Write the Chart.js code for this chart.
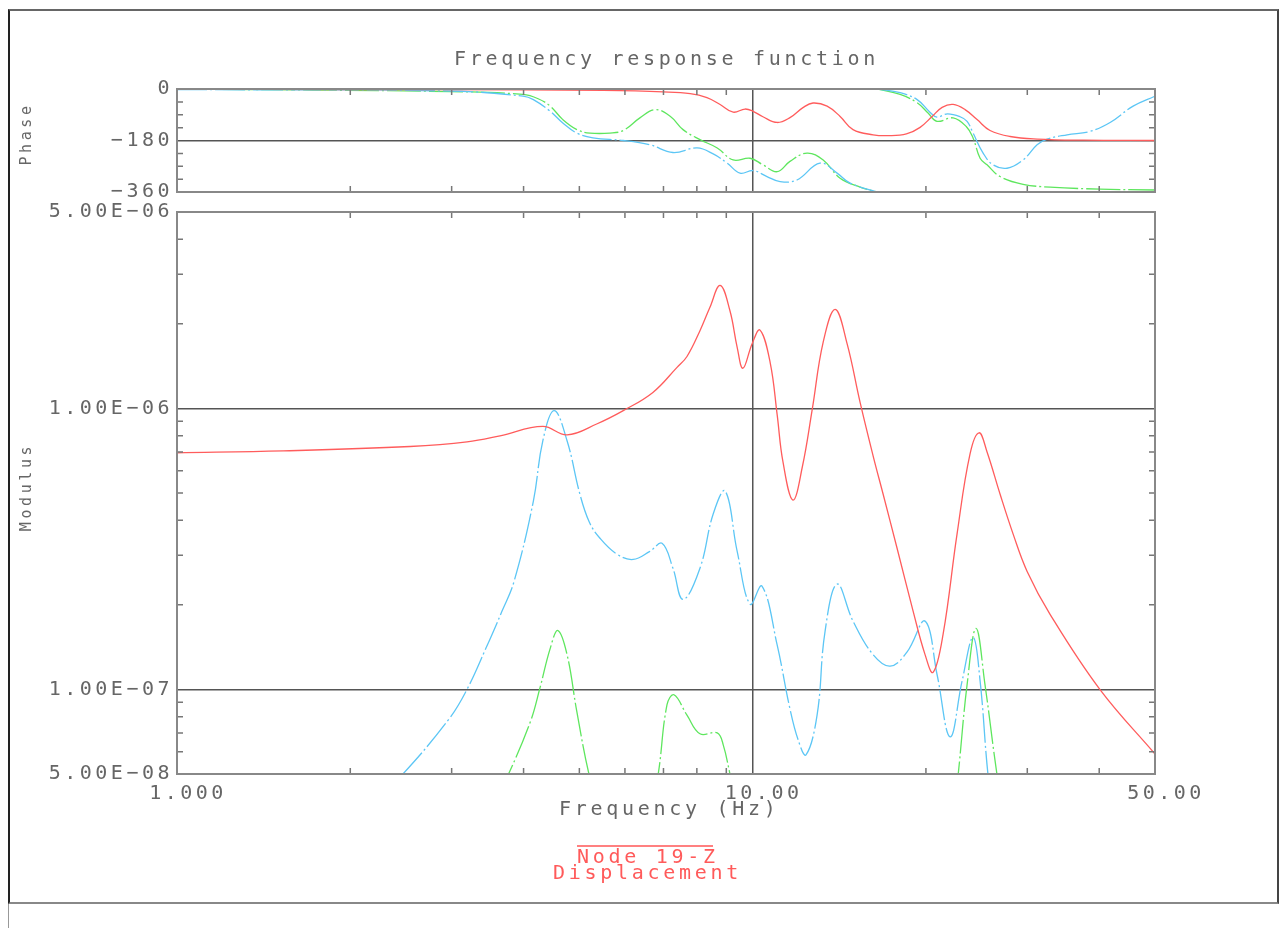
<!DOCTYPE html>
<html>
<head>
<meta charset="utf-8">
<script src="https://cdn.jsdelivr.net/npm/chart.js@4.4.1/dist/chart.umd.min.js"></script>
<style>
  body { margin: 0; background: #fff; width: 1283px; height: 928px; overflow: hidden; position: relative;
         font-family: 'DejaVu Sans Mono', monospace; color: #666; }
  .txt { position: absolute; white-space: nowrap; font-size: 20px; line-height: 24px; letter-spacing: 3.7px; }
  .vert { position: absolute; white-space: nowrap; font-size: 15px; line-height: 18px; letter-spacing: 3.6px;
          transform: translate(-50%, -50%) rotate(-90deg); }
  canvas { position: absolute; left: 0; top: 0; }
  #frame { position: absolute; left: 8px; top: 9px; width: 1267px; height: 891px;
           border-left: 2px solid #222; border-top: 2px solid #666; border-right: 2px solid #444; border-bottom: 2px solid #888; }
  #lower { position: absolute; left: 8px; top: 904px; height: 30px; border-left: 1px solid #999; }
  #overline { position: absolute; left: 577px; top: 845px; width: 136px; height: 2px; background: #ff8080; }
  .red { color: #ff5a5a; }
</style>
</head>
<body>
<div id="frame"></div>
<div id="lower"></div>
<canvas id="phaseChart" width="1283" height="928"></canvas>
<canvas id="modChart" width="1283" height="928"></canvas>

<div class="txt" style="left:454px; top:46px;">Frequency response function</div>
<div class="vert" style="left:26px; top:134px;">Phase</div>
<div class="vert" style="left:26px; top:487px;">Modulus</div>
<div class="txt" style="left:559px; top:796px;">Frequency (Hz)</div>
<div id="overline"></div>
<div class="txt red" style="left:577px; top:844px;">Node 19-Z</div>
<div class="txt red" style="left:553px; top:860px;">Displacement</div>

<script>
// --- data ---
const xTickValues = [1, 10, 50];
const xTickLabels = ['1.000', '10.00', '50.00'];
const xMinorTicks = [2, 3, 4, 5, 6, 7, 8, 9, 20, 30, 40];

const modTickValues = [5e-8, 1e-7, 1e-6, 5e-6];
const modTickLabels = ['5.00E\u221208', '1.00E\u221207', '1.00E\u221206', '5.00E\u221206'];
const modMinorTicks = [6e-8, 7e-8, 8e-8, 9e-8, 2e-7, 3e-7, 4e-7, 5e-7, 6e-7, 7e-7, 8e-7, 9e-7, 2e-6, 3e-6, 4e-6];

const phaseTickValues = [-360, -180, 0];
const phaseTickLabels = ['\u2212360', '\u2212180', '0'];
const phaseMinorTicks = [-315, -270, -225, -135, -90, -45];

// modulus (displacement)
const redModFreq = [1.0, 1.53, 2.54, 3.19, 3.64, 4.32, 4.76, 5.37, 5.96, 6.71, 7.39, 7.69, 8.10, 8.43, 8.78, 9.13, 9.40, 9.62, 9.98, 10.30, 10.73, 11.03, 11.29, 11.75, 12.20, 12.69, 13.26, 13.91, 14.59, 15.37, 16.19, 16.85, 17.82, 19.00, 19.93, 20.58, 21.42, 22.65, 23.86, 24.74, 25.54, 26.90, 28.35, 29.98, 32.86, 40.13, 50.0];
const redMod = [6.95e-7, 7.06e-7, 7.32e-7, 7.60e-7, 7.99e-7, 8.63e-7, 8.05e-7, 8.82e-7, 9.82e-7, 1.14e-6, 1.40e-6, 1.53e-6, 1.89e-6, 2.29e-6, 2.74e-6, 2.23e-6, 1.65e-6, 1.39e-6, 1.70e-6, 1.90e-6, 1.45e-6, 9.5e-7, 6.45e-7, 4.72e-7, 6.2e-7, 9.9e-7, 1.72e-6, 2.25e-6, 1.70e-6, 1.05e-6, 6.78e-7, 4.96e-7, 3.18e-7, 1.90e-7, 1.33e-7, 1.15e-7, 1.57e-7, 3.57e-7, 6.89e-7, 8.19e-7, 7.0e-7, 4.96e-7, 3.57e-7, 2.63e-7, 1.85e-7, 9.98e-8, 5.89e-8];

const blueModFreq = [2.20, 2.46, 2.97, 3.19, 3.44, 3.67, 3.85, 4.16, 4.32, 4.52, 4.76, 5.01, 5.20, 5.43, 5.81, 6.20, 6.63, 6.96, 7.27, 7.57, 8.10, 8.54, 8.96, 9.40, 9.90, 10.38, 11.03, 11.60, 12.00, 12.38, 12.94, 13.36, 14.02, 14.94, 16.19, 17.33, 18.55, 19.93, 20.91, 22.03, 23.11, 24.15, 24.84, 25.64, 26.50];
const blueMod = [4.0e-8, 4.96e-8, 7.86e-8, 1.0e-7, 1.40e-7, 1.90e-7, 2.42e-7, 4.68e-7, 7.67e-7, 9.82e-7, 7.67e-7, 4.96e-7, 3.95e-7, 3.45e-7, 3.03e-7, 2.90e-7, 3.10e-7, 3.31e-7, 2.70e-7, 2.09e-7, 2.70e-7, 4.21e-7, 5.08e-7, 3.10e-7, 2.01e-7, 2.33e-7, 1.44e-7, 8.6e-8, 6.6e-8, 5.85e-8, 8.1e-8, 1.61e-7, 2.37e-7, 1.75e-7, 1.33e-7, 1.21e-7, 1.36e-7, 1.75e-7, 1.13e-7, 6.78e-8, 1.07e-7, 1.53e-7, 1.07e-7, 4.96e-8, 3.0e-8];

const greenModFreq = [3.60, 3.76, 4.11, 4.27, 4.45, 4.59, 4.76, 4.95, 5.20, 5.35, 6.00, 6.70, 6.85, 7.10, 7.30, 7.69, 8.10, 8.68, 8.89, 9.14, 9.30, 15.0, 22.50, 22.75, 23.58, 24.44, 25.33, 26.58, 27.00];
const greenMod = [4.2e-8, 4.96e-8, 7.67e-8, 1.01e-7, 1.40e-7, 1.62e-7, 1.33e-7, 8.33e-8, 4.96e-8, 4.2e-8, null, 4.2e-8, 4.96e-8, 8.82e-8, 9.57e-8, 8.1e-8, 6.95e-8, 7.0e-8, 6.35e-8, 4.96e-8, 4.2e-8, null, 4.2e-8, 4.96e-8, 1.04e-7, 1.65e-7, 1.04e-7, 4.96e-8, 4.2e-8];

// phase (degrees)
const redPhaseFreq = [1.0, 2.0, 4.06, 5.5, 6.99, 7.79, 8.33, 8.78, 9.25, 9.70, 10.02, 10.42, 11.03, 11.61, 12.23, 12.73, 13.47, 14.19, 14.94, 16.19, 17.2, 18.5, 19.54, 20.50, 21.34, 22.30, 23.39, 24.54, 25.85, 28.01, 31.2, 37.5, 50.0];
const redPhase = [-1, -2, -3, -5, -10, -16, -30, -54, -81, -70, -78, -97, -117, -100, -65, -49, -60, -96, -142, -160, -163, -157, -134, -96, -64, -54, -72, -107, -145, -166, -175, -179, -180];

const bluePhaseFreq = [1.0, 2.98, 3.99, 4.16, 4.45, 4.68, 4.95, 5.28, 5.96, 6.63, 7.27, 8.01, 8.54, 9.03, 9.51, 10.02, 10.59, 11.16, 11.94, 13.09, 14.02, 14.77, 16.45, 16.47, 16.50, 18.04, 19.31, 20.3, 20.9, 21.8, 22.93, 23.58, 24.15, 25.14, 26.16, 27.67, 29.5, 31.2, 32.47, 35.18, 38.57, 41.78, 45.81, 50.0];
const bluePhase = [-2, -7, -25, -37, -78, -119, -154, -171, -180, -195, -222, -206, -227, -259, -294, -285, -306, -324, -318, -259, -294, -329, -360, null, 0, -13, -37, -80, -98, -87, -97, -113, -154, -224, -265, -277, -248, -195, -175, -160, -148, -117, -60, -25];

const greenPhaseFreq = [1.0, 2.98, 3.99, 4.24, 4.45, 4.68, 4.95, 5.22, 5.65, 5.96, 6.37, 6.77, 7.19, 7.57, 8.10, 8.68, 9.25, 9.90, 10.42, 11.03, 11.61, 12.43, 13.26, 14.19, 15.37, 16.45, 16.47, 16.50, 18.04, 19.31, 20.17, 20.9, 22.3, 23.5, 24.15, 24.84, 25.54, 26.9, 29.5, 32.86, 40.13, 50.0];
const greenPhase = [0, -9, -19, -34, -60, -107, -142, -154, -154, -145, -101, -72, -95, -142, -177, -206, -248, -242, -265, -289, -253, -224, -248, -312, -343, -360, null, 0, -19, -48, -84, -113, -101, -131, -171, -242, -265, -306, -333, -343, -350, -353];

// --- helpers ---
const W = 1283, H = 928;
const tickFont = { family: 'DejaVu Sans Mono', size: 20 };
const textCol = '#666';
const gridCol = '#555';
const clear = 'rgba(0,0,0,0)';

function pts(fs, vs) {
    return fs.map((f, i) => ({ x: f, y: vs[i] }));
}

function ds(fs, vs, color, dash) {
    return {
        data: pts(fs, vs),
        borderColor: color,
        borderDash: dash,
        borderWidth: 1.3,
        pointRadius: 0,
        fill: false,
        spanGaps: false,
        tension: 0.4
    };
}

// ticks on all four sides of the box + the box itself
const frameTicks = {
    id: 'frameTicks',
    beforeDraw(chart) {
        chart.ctx.letterSpacing = '3.5px';
    },
    afterDraw(chart, args, opts) {
        const { ctx, chartArea: a, scales } = chart;
        ctx.save();
        ctx.strokeStyle = '#777';
        ctx.lineWidth = 1.5;
        ctx.beginPath();
        opts.xMinor.forEach(v => {
            const px = scales.x.getPixelForValue(v);
            ctx.moveTo(px, a.bottom); ctx.lineTo(px, a.bottom - 6);
            ctx.moveTo(px, a.top); ctx.lineTo(px, a.top + 6);
        });
        opts.yMinor.forEach(v => {
            const py = scales.y.getPixelForValue(v);
            ctx.moveTo(a.left, py); ctx.lineTo(a.left + 6, py);
            ctx.moveTo(a.right, py); ctx.lineTo(a.right - 6, py);
        });
        ctx.stroke();
        ctx.strokeStyle = '#888';
        ctx.lineWidth = 2;
        ctx.strokeRect(a.left, a.top, a.right - a.left, a.bottom - a.top);
        ctx.restore();
    }
};

function xAxis(showLabels, bottomPx) {
    return {
        type: 'logarithmic', min: 1, max: 50,
        afterBuildTicks: s => { s.ticks = xTickValues.map(v => ({ value: v })); },
        afterFit: s => { s.height = H - bottomPx; },
        ticks: {
            display: showLabels, autoSkip: false, maxRotation: 0, minRotation: 0,
            font: tickFont, color: textCol, padding: 8, labelOffset: 11,
            callback: v => xTickLabels[xTickValues.indexOf(v)]
        },
        grid: { drawTicks: false, lineWidth: 1.5, color: c => (c.tick && c.tick.value === 10) ? gridCol : clear },
        border: { display: false }
    };
}

function baseOptions(top, xBottom, yAxis, yMinor) {
    return {
        responsive: false,
        animation: false,
        devicePixelRatio: 1,
        layout: { padding: { top: top, right: W - 1155, left: 0, bottom: 0 } },
        plugins: {
            legend: { display: false },
            tooltip: { enabled: false },
            frameTicks: { xMinor: xMinorTicks, yMinor: yMinor }
        },
        scales: { x: xAxis(xBottom === 774, xBottom), y: yAxis }
    };
}

// --- phase chart ---
new Chart(document.getElementById('phaseChart'), {
    type: 'line',
    data: {
        datasets: [
            ds(redPhaseFreq, redPhase, '#ff5c5c', []),
            ds(bluePhaseFreq, bluePhase, '#5cc6f5', [30, 3, 2, 3]),
            ds(greenPhaseFreq, greenPhase, '#5ee65e', [34, 3, 2, 3])
        ]
    },
    options: baseOptions(89, 192, {
        type: 'linear', min: -360, max: 0,
        afterBuildTicks: s => { s.ticks = phaseTickValues.map(v => ({ value: v })); },
        afterFit: s => { s.width = 177; },
        ticks: { font: tickFont, color: textCol, padding: 4, callback: v => phaseTickLabels[phaseTickValues.indexOf(v)] },
        grid: { drawTicks: false, lineWidth: 1.5, color: c => (c.tick && c.tick.value === -180) ? gridCol : clear },
        border: { display: false }
    }, phaseMinorTicks),
    plugins: [frameTicks]
});

// --- modulus chart ---
new Chart(document.getElementById('modChart'), {
    type: 'line',
    data: {
        datasets: [
            ds(redModFreq, redMod, '#ff5c5c', []),
            ds(blueModFreq, blueMod, '#5cc6f5', [30, 3, 2, 3]),
            ds(greenModFreq, greenMod, '#5ee65e', [34, 3, 2, 3])
        ]
    },
    options: baseOptions(212, 774, {
        type: 'logarithmic', min: 5e-8, max: 5e-6,
        afterBuildTicks: s => { s.ticks = modTickValues.map(v => ({ value: v })); },
        afterFit: s => { s.width = 177; },
        ticks: { font: tickFont, color: textCol, padding: 4, callback: v => modTickLabels[modTickValues.indexOf(v)] },
        grid: { drawTicks: false, lineWidth: 1.5, color: c => (c.tick && (c.tick.value === 1e-6 || c.tick.value === 1e-7)) ? gridCol : clear },
        border: { display: false }
    }, modMinorTicks),
    plugins: [frameTicks]
});
</script>
</body>
</html>
